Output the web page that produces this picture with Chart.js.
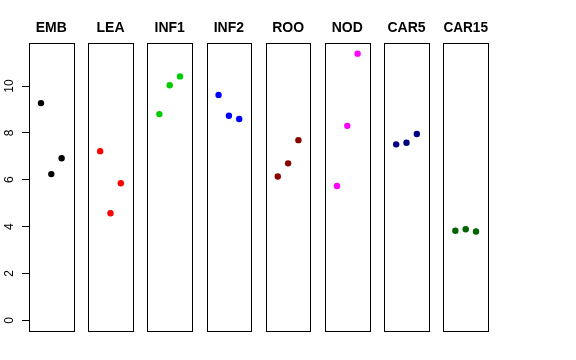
<!DOCTYPE html>
<html><head><meta charset="utf-8">
<script src="https://cdn.jsdelivr.net/npm/chart.js@4/dist/chart.umd.min.js"></script>
<style>
html,body{margin:0;padding:0;background:#fff;}
#wrap{position:relative;width:576px;height:360px;background:#fff;}
canvas{position:absolute;left:0;top:0;}
</style></head><body><div id="wrap"></div>
<script>
const panels = ['EMB','LEA','INF1','INF2','ROO','NOD','CAR5','CAR15'];
const colors = ['#000000','#FF0000','#00CD00','#0000FF','#8B0000','#FF00FF','#000080','#006400'];
const xPositions = [1, 2, 3];
const EMB   = [9.27, 6.24, 6.92];
const LEA   = [7.22, 4.57, 5.85];
const INF1  = [8.80, 10.03, 10.41];
const INF2  = [9.62, 8.73, 8.59];
const ROO   = [6.14, 6.70, 7.69];
const NOD   = [5.73, 8.30, 11.38];
const CAR5  = [7.51, 7.58, 7.95];
const CAR15 = [3.82, 3.89, 3.79];
const yTicks = [0, 2, 4, 6, 8, 10];
const seriesValues = [EMB, LEA, INF1, INF2, ROO, NOD, CAR5, CAR15];

const W = 576, H = 360;
const firstLeft = 29, step = 59.2, boxW = 44.6, boxTop = 43, boxBottom = 331;
const yMin = -0.455, yMax = 11.835;

const boxPlugin = {
  id: 'box',
  afterDraw(chart) {
    const a = chart.chartArea, ctx = chart.ctx;
    ctx.save();
    ctx.strokeStyle = '#000';
    ctx.lineWidth = 1;
    ctx.strokeRect(Math.round(a.left) + 0.5, Math.round(a.top) + 0.5,
                   Math.round(a.right) - Math.round(a.left), Math.round(a.bottom) - Math.round(a.top));
    ctx.restore();
  }
};

const wrap = document.getElementById('wrap');
panels.forEach((name, k) => {
  const cv = document.createElement('canvas');
  cv.width = W; cv.height = H;
  cv.style.width = W + 'px'; cv.style.height = H + 'px';
  wrap.appendChild(cv);
  const left = firstLeft + k * step;
  const showY = k === 0;
  new Chart(cv, {
    type: 'scatter',
    data: {
      datasets: [{
        data: xPositions.map((x, i) => ({ x: x, y: seriesValues[k][i] })),
        backgroundColor: colors[k],
        borderWidth: 0,
        pointRadius: 3.2,
        pointHoverRadius: 3.2
      }]
    },
    options: {
      responsive: false,
      animation: false,
      events: [],
      layout: {
        padding: { left: showY ? 0 : left, right: W - left - boxW, top: 0, bottom: H - boxBottom }
      },
      plugins: {
        legend: { display: false },
        tooltip: { enabled: false },
        title: {
          display: true,
          text: name,
          fullSize: false,
          color: '#000',
          font: { family: '"Liberation Sans", Arial, sans-serif', size: 14, weight: 'bold', lineHeight: 1.2 },
          padding: { top: 20, bottom: boxTop - 20 - 16.8 }
        }
      },
      scales: {
        x: { type: 'linear', display: false, min: -0.16, max: 4.16 },
        y: {
          type: 'linear',
          display: showY,
          position: 'left',
          min: yMin, max: yMax,
          afterBuildTicks: s => { s.ticks = yTicks.map(v => ({ value: v })); },
          afterFit: s => { if (showY) s.width = firstLeft; },
          grid: { drawOnChartArea: false, drawTicks: true, tickLength: 7, color: '#000', lineWidth: 1 },
          border: { display: false },
          ticks: {
            color: '#000',
            font: { family: '"Liberation Sans", Arial, sans-serif', size: 12 },
            minRotation: 90, maxRotation: 90,
            crossAlign: 'center',
            padding: 6
          }
        }
      }
    },
    plugins: [boxPlugin]
  });
});
</script>
</body></html>
